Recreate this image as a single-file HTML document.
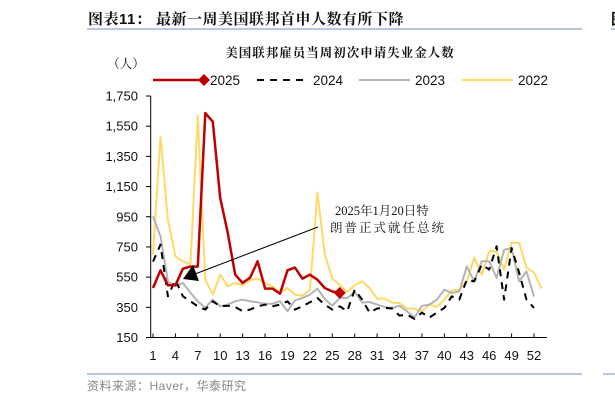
<!DOCTYPE html>
<html><head><meta charset="utf-8">
<style>
body{margin:0;background:#fff;width:615px;height:403px;overflow:hidden;position:relative;font-family:"Liberation Sans","Noto Sans CJK SC",sans-serif;}
.abs{position:absolute;white-space:nowrap;}
</style></head>
<body>
<div class="abs" style="left:88px;top:8px;font-size:15px;font-weight:bold;color:#111;letter-spacing:0.5px;font-family:'Liberation Sans','Noto Serif CJK SC',serif;">图表11：&nbsp;最新一周美国联邦首申人数有所下降</div>
<div class="abs" style="left:87px;top:28px;width:495px;height:2px;background:#b8c8dc;"></div>
<div class="abs" style="left:611px;top:8px;font-size:15px;font-weight:bold;color:#111;">图</div>
<div class="abs" style="left:611px;top:28px;width:10px;height:2px;background:#b8c8dc;"></div>
<div class="abs" style="left:87px;top:373px;width:495px;height:2px;background:#b8c8dc;"></div>
<div class="abs" style="left:603px;top:373px;width:15px;height:2px;background:#b8c8dc;"></div>
<div class="abs" style="left:87px;top:377px;font-size:12px;color:#888;letter-spacing:0.5px;">资料来源：Haver，华泰研究</div>
<svg width="615" height="403" style="position:absolute;left:0;top:0" id="chart">
<text x="340" y="57" text-anchor="middle" font-size="12.5" font-weight="bold" fill="#111" font-family="'Liberation Serif','Noto Serif CJK SC',serif" letter-spacing="1">美国联邦雇员当周初次申请失业金人数</text>
<text x="126" y="68" text-anchor="middle" font-size="12.5" fill="#111" font-family="'Liberation Serif','Noto Serif CJK SC',serif">（人）</text>
<g id="legend"></g>
<g id="axes"></g>
<g id="series"></g>
<g>
<text x="335" y="215" font-size="12.5" fill="#111" font-family="'Liberation Serif','Noto Serif CJK SC',serif">2025年1月20日特</text>
<text x="330" y="232" font-size="12.5" fill="#111" font-family="'Liberation Serif','Noto Serif CJK SC',serif" letter-spacing="2">朗普正式就任总统</text>
<line x1="318" y1="227" x2="195" y2="274" stroke="#000" stroke-width="1"/>
<polygon points="183,279 193,265 199,281" fill="#000"/>
</g>
</svg>
<script>
const weeks2025=[478,595,496,496,606,620,620,1637,1580,1075,844,566,512,546,655,474,474,440,595,613,540,566,533,478,455,446];
const weeks2024=[653,765,423,533,423,390,357,335,390,357,361,352,324,335,357,368,357,368,390,335,357,383,412,368,335,357,324,467,401,315,342,346,342,295,302,273,315,282,315,346,423,401,533,522,632,600,754,401,743,580,401,346];
const weeks2023=[952,820,522,489,512,446,390,348,401,357,368,390,401,390,383,374,374,390,324,396,412,434,474,405,361,412,412,452,381,385,368,352,346,360,324,282,360,368,401,467,445,456,621,522,655,655,545,732,743,522,588,421];
const weeks2022=[699,1481,930,688,655,633,1618,533,434,566,489,512,496,529,540,512,489,446,478,434,427,467,1108,699,540,496,452,496,523,478,408,408,381,378,342,340,324,368,352,401,463,467,522,679,566,721,720,600,778,778,613,580,474];
const yTicks=[150,350,550,750,950,1150,1350,1550,1750];
const xTickWeeks=[1,4,7,10,13,16,19,22,25,28,31,34,37,40,43,46,49,52];

const NS='http://www.w3.org/2000/svg';
const X0=153,X1=534,Y0=337.5,Y1=96;
const xs=w=>X0+(w-1)*(X1-X0)/51;
const ys=v=>Y0-(v-150)*(Y0-Y1)/1600;
function mk(tag,attrs,parent){const e=document.createElementNS(NS,tag);for(const k in attrs)e.setAttribute(k,attrs[k]);parent.appendChild(e);return e;}
const axes=document.getElementById('axes');
const yAxis=mk('line',{x1:150.7,y1:Y1,x2:150.7,y2:Y0,stroke:'#000','stroke-width':1},axes);


const xAxis=mk('line',{x1:150.7,y1:Y0,x2:547,y2:Y0,stroke:'#000','stroke-width':1},axes);


yTicks.forEach(v=>{
  mk('line',{x1:146,x2:150.7,y1:ys(v),y2:ys(v),stroke:'#000'},axes);
  const t=mk('text',{x:138,y:ys(v)+4.5,'text-anchor':'end','font-size':13,fill:'#111'},axes);
  t.textContent=v.toLocaleString('en-US');
  
  
});
xTickWeeks.forEach(w=>{
  mk('line',{x1:xs(w),x2:xs(w),y1:Y0,y2:Y0-4,stroke:'#000'},axes);
  const t=mk('text',{x:xs(w),y:360,'text-anchor':'middle','font-size':13,fill:'#111'},axes);
  t.textContent=w;
  
  
});
const ser=document.getElementById('series');
function line(data,color,width,dash,name){
  const pts=data.map((v,i)=>xs(i+1).toFixed(1)+','+ys(v).toFixed(1)).join(' ');
  const p=mk('polyline',{points:pts,fill:'none',stroke:color,'stroke-width':width,'stroke-linejoin':'round'},ser);
  if(dash)p.setAttribute('stroke-dasharray',dash);
  
  
}
line(weeks2022,'#ffd966',2,null,'series-2022-line');
line(weeks2023,'#b4b4b4',2,null,'series-2023-line');
line(weeks2024,'#000',2,'7,6','series-2024-line');
line(weeks2025,'#c00000',2.5,null,'series-2025-line');
const lw=weeks2025.length,lx=xs(lw),ly=ys(weeks2025[lw-1]);
const dm=mk('polygon',{points:`${lx},${ly-6} ${lx+6},${ly} ${lx},${ly+6} ${lx-6},${ly}`,fill:'#c00000'},ser);


const lg=document.getElementById('legend');
const items=[['2025','#c00000',153,null,2.5],['2024','#000',257,'7,6',2],['2023','#b4b4b4',359,null,2],['2022','#ffd966',462,null,2]];
items.forEach(([lab,c,x,d,w])=>{
  const l=mk('line',{x1:x,x2:x+51,y1:80,y2:80,stroke:c,'stroke-width':w},lg);
  if(d)l.setAttribute('stroke-dasharray',d);
  
  
  if(lab==='2025'){const m=mk('polygon',{points:`${x+51},74 ${x+57},80 ${x+51},86 ${x+45},80`,fill:c},lg);}
  const t=mk('text',{x:x+(lab==='2025'?57:56),y:85,'font-size':13.5,fill:'#111'},lg);
  t.textContent=lab;
  
  
});
</script>
</body></html>
